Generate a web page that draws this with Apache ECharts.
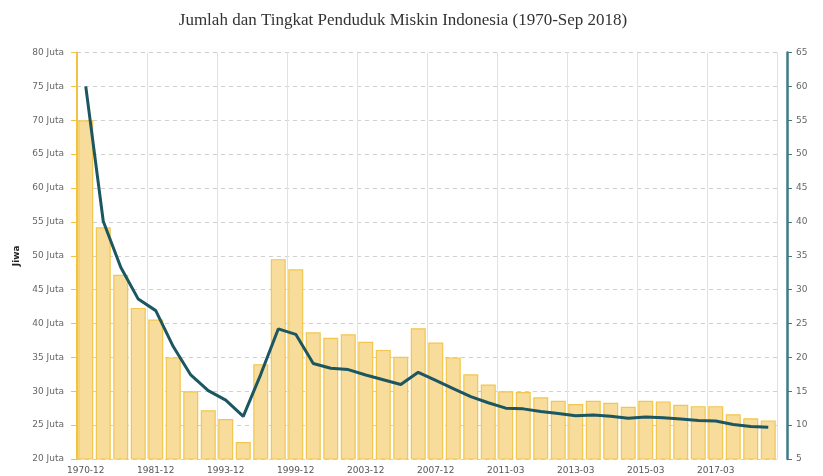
<!DOCTYPE html>
<html>
<head>
<meta charset="utf-8">
<script src="https://cdn.jsdelivr.net/npm/echarts@6/dist/echarts.min.js"></script>
<style>
  html, body { margin: 0; padding: 0; background: #fff; }
  #main { width: 823px; height: 476px; }
</style>
</head>
<body>
<div id="main"></div>
<script>
// periode survei
var categories = [
    '1970-12', '1976-12', '1978-12', '1980-12', '1981-12', '1984-12', '1987-12', '1990-12',
    '1993-12', '1996-12', '1996-12 ', '1998-12', '1999-12', '2000-12', '2001-12', '2002-12',
    '2003-12', '2004-12', '2005-12', '2006-12', '2007-12', '2008-12', '2009-12', '2010-12',
    '2011-03', '2011-09', '2012-03', '2012-09', '2013-03', '2013-09', '2014-03', '2014-09',
    '2015-03', '2015-09', '2016-03', '2016-09', '2017-03', '2017-09', '2018-03', '2018-09'
];

// jumlah penduduk miskin (juta jiwa)
var jumlahMiskin = [
    70.0, 54.2, 47.2, 42.3, 40.6, 35.0, 30.0, 27.2,
    25.9, 22.5, 34.0, 49.5, 48.0, 38.7, 37.9, 38.4,
    37.3, 36.1, 35.1, 39.3, 37.2, 35.0, 32.5, 31.0,
    30.0, 29.9, 29.1, 28.6, 28.1, 28.6, 28.3, 27.7,
    28.6, 28.5, 28.0, 27.8, 27.8, 26.6, 26.0, 25.7
];

// persentase penduduk miskin (%)
var persenMiskin = [
    60.0, 40.1, 33.3, 28.6, 26.9, 21.6, 17.4, 15.1,
    13.7, 11.3, 17.5, 24.2, 23.4, 19.1, 18.4, 18.2,
    17.4, 16.7, 16.0, 17.8, 16.6, 15.4, 14.2, 13.3,
    12.5, 12.4, 12.0, 11.7, 11.4, 11.5, 11.3, 11.0,
    11.2, 11.1, 10.9, 10.7, 10.6, 10.1, 9.8, 9.7
];

var chart = echarts.init(document.getElementById('main'));

var option = {
    animation: false,
    title: {
        text: 'Jumlah dan Tingkat Penduduk Miskin Indonesia (1970-Sep 2018)',
        left: 398,
        textAlign: 'center',
        top: 7,
        textStyle: {
            fontFamily: 'Liberation Serif',
            fontWeight: 'normal',
            fontSize: 17,
            color: '#333'
        }
    },
    grid: {
        left: 77,
        right: 46,
        top: 52.5,
        bottom: 17,
        outerBoundsMode: 'none',
        containLabel: false
    },
    xAxis: {
        type: 'category',
        data: categories,
        boundaryGap: true,
        axisLine: { show: false },
        axisTick: { show: false },
        axisLabel: {
            interval: 3,
            margin: 7,
            fontSize: 9,
            color: '#555',
            fontFamily: 'DejaVu Sans'
        },
        splitLine: {
            show: true,
            interval: 3,
            lineStyle: { color: '#e2e2e2', width: 1 }
        }
    },
    yAxis: [
        {
            type: 'value',
            name: 'Jiwa',
            nameLocation: 'middle',
            nameGap: 55,
            nameRotate: 90,
            nameTextStyle: { fontSize: 9, fontWeight: 'bold', color: '#222', fontFamily: 'DejaVu Sans' },
            min: 20,
            max: 80,
            interval: 5,
            axisLine: { show: true, lineStyle: { color: '#F2C340', width: 2 } },
            axisTick: { show: true, length: 6, lineStyle: { color: '#F2C340' } },
            axisLabel: {
                formatter: '{value} Juta',
                fontSize: 9,
                color: '#666',
                margin: 13,
                fontFamily: 'DejaVu Sans'
            },
            splitLine: {
                show: true,
                lineStyle: { color: '#cfcfcf', type: [4, 4] }
            }
        },
        {
            type: 'value',
            name: 'Persen',
            nameLocation: 'middle',
            nameGap: 38,
            nameRotate: 90,
            nameTextStyle: { fontSize: 9, fontWeight: 'bold', color: '#222' },
            min: 5,
            max: 65,
            interval: 5,
            position: 'right',
            offset: 10,
            axisLine: { show: true, lineStyle: { color: '#3B7C87', width: 2.5 } },
            axisTick: { show: true, length: 5, lineStyle: { color: '#3B7C87' } },
            axisLabel: {
                fontSize: 9,
                color: '#666',
                margin: 9,
                fontFamily: 'DejaVu Sans'
            },
            splitLine: { show: false }
        }
    ],
    series: [
        {
            type: 'bar',
            name: 'Jumlah',
            data: jumlahMiskin,
            yAxisIndex: 0,
            barWidth: 15,
            itemStyle: {
                color: '#F8DC9B',
                borderColor: '#F2C64E',
                borderWidth: 1.2
            }
        },
        {
            type: 'line',
            name: 'Persentase',
            data: persenMiskin,
            yAxisIndex: 1,
            symbol: 'none',
            lineStyle: { color: '#1B5661', width: 3 },
            itemStyle: { color: '#1B5661' }
        }
    ]
};

chart.setOption(option);
</script>
</body>
</html>
